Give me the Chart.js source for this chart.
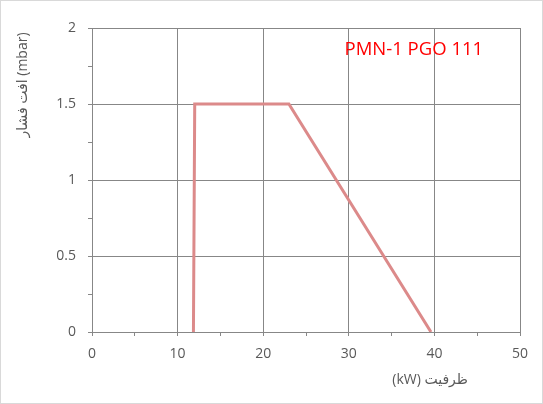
<!DOCTYPE html>
<html>
<head>
<meta charset="utf-8">
<script src="https://cdn.jsdelivr.net/npm/chart.js@4"></script>
<style>
  html, body { margin: 0; padding: 0; background: #fff; }
  #wrap { width: 543px; height: 404px; }
</style>
</head>
<body>
<div id="wrap"><canvas id="chart"></canvas></div>
<script>
// capacity (kW) vs pressure drop (mbar)
const capacityKW = [11.85, 12, 23, 39.6];
const pressureMbar = [0, 1.5, 1.5, 0];
const xTicks = [0, 10, 20, 30, 40, 50];
const yTicks = [0, 0.5, 1, 1.5, 2];
const seriesLabel = 'PMN-1 PGO 111';
const xTitle = 'ظرفیت (kW)';
const yTitle = 'افت فشار (mbar)';

const gridColor = '#878787';
const fontFam = '"Open Sans", "DejaVu Sans", sans-serif';

const chartText = {
  id: 'chartText',
  beforeDraw(chart) {
    const ctx = chart.ctx;
    ctx.save();
    ctx.fillStyle = '#fff';
    ctx.fillRect(0, 0, chart.width, chart.height);
    ctx.strokeStyle = '#d9d9d9';
    ctx.lineWidth = 1;
    ctx.strokeRect(0.5, 0.5, chart.width - 1, chart.height - 1);
    ctx.restore();
  },
  afterDraw(chart) {
    const ctx = chart.ctx;
    const xs = chart.scales.x, ys = chart.scales.y;
    ctx.save();
    // series label
    ctx.fillStyle = '#ff0000';
    ctx.font = '18.5px ' + fontFam;
    ctx.textAlign = 'center';
    ctx.textBaseline = 'middle';
    ctx.fillText(seriesLabel, xs.getPixelForValue(37.6), ys.getPixelForValue(1.86));
    // x title
    ctx.fillStyle = '#595959';
    ctx.font = '14px ' + fontFam;
    ctx.direction = 'rtl';
    ctx.fillText(xTitle, xs.getPixelForValue(39.5), chart.height - 24);
    // y title
    ctx.direction = 'ltr';
    ctx.translate(23, ys.getPixelForValue(1.625));
    ctx.rotate(-Math.PI / 2);
    ctx.fillText(yTitle, 0, 0);
    ctx.restore();
  }
};

new Chart(document.getElementById('chart'), {
  type: 'line',
  data: {
    datasets: [{
      label: seriesLabel,
      data: capacityKW.map((x, i) => ({ x: x, y: pressureMbar[i] })),
      borderColor: '#dc8a8a',
      borderWidth: 3,
      pointRadius: 0,
      tension: 0,
      fill: false
    }]
  },
  options: {
    responsive: true,
    maintainAspectRatio: false,
    animation: false,
    devicePixelRatio: 1,
    layout: { padding: { top: 28, right: 23, left: 0, bottom: 0 } },
    plugins: { legend: { display: false }, tooltip: { enabled: false } },
    scales: {
      x: {
        type: 'linear',
        min: xTicks[0],
        max: xTicks[xTicks.length - 1],
        afterBuildTicks(scale) {
          const t = [];
          for (let v = scale.min; v <= scale.max; v += 5) t.push({ value: v });
          scale.ticks = t;
        },
        afterFit(scale) { scale.height = 72; },
        ticks: {
          color: '#595959',
          font: { family: fontFam, size: 14 },
          padding: 10,
          maxRotation: 0,
          autoSkip: false,
          callback: (v) => xTicks.includes(v) ? String(v) : ''
        },
        grid: {
          color: (c) => c.tick && xTicks.includes(c.tick.value) ? gridColor : 'rgba(0,0,0,0)',
          tickColor: gridColor,
          tickLength: 4,
          lineWidth: 1
        },
        border: { color: gridColor }
      },
      y: {
        type: 'linear',
        min: yTicks[0],
        max: yTicks[yTicks.length - 1],
        afterBuildTicks(scale) {
          const t = [];
          for (let v = 0; v <= 8; v++) t.push({ value: v * 0.25 });
          scale.ticks = t;
        },
        afterFit(scale) { scale.width = 92; },
        ticks: {
          color: '#595959',
          font: { family: fontFam, size: 14 },
          padding: 12,
          autoSkip: false,
          callback: (v) => yTicks.includes(v) ? String(v) : ''
        },
        grid: {
          color: (c) => c.tick && yTicks.includes(c.tick.value) ? gridColor : 'rgba(0,0,0,0)',
          tickColor: gridColor,
          tickLength: 4,
          lineWidth: 1
        },
        border: { color: gridColor }
      }
    }
  },
  plugins: [chartText, {
    id: 'frame',
    afterDatasetsDraw(chart) {
      const a = chart.chartArea, ctx = chart.ctx;
      ctx.save();
      ctx.strokeStyle = gridColor;
      ctx.lineWidth = 1;
      ctx.beginPath();
      ctx.moveTo(Math.round(a.left) + 0.5, Math.round(a.top) + 0.5);
      ctx.lineTo(Math.round(a.right) + 0.5, Math.round(a.top) + 0.5);
      ctx.lineTo(Math.round(a.right) + 0.5, Math.round(a.bottom) + 0.5);
      ctx.stroke();
      ctx.restore();
    }
  }]
});
</script>
</body>
</html>
